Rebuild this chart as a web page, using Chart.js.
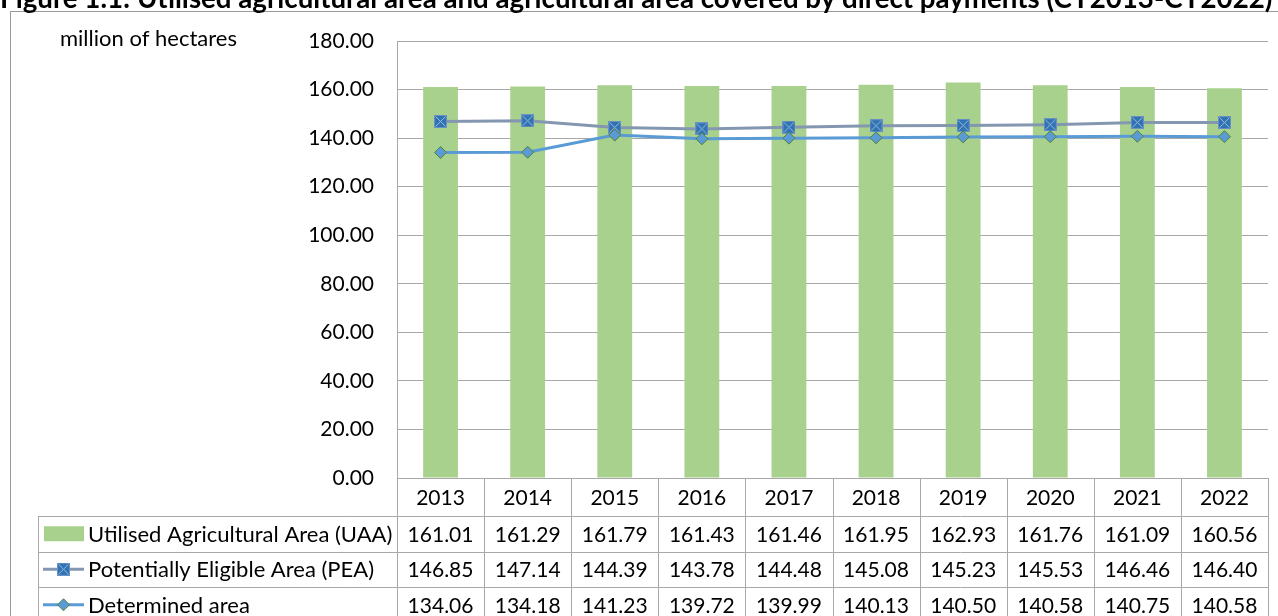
<!DOCTYPE html>
<html>
<head>
<meta charset="utf-8">
<script src="https://cdn.jsdelivr.net/npm/chart.js@4.4.1/dist/chart.umd.min.js"></script>
<style>
  html, body { margin: 0; padding: 0; background: #fff; }
  #wrap { width: 1278px; height: 616px; position: relative; overflow: hidden; background: #fff; }
</style>
</head>
<body>
<div id="wrap"><canvas id="chart" width="1278" height="616"></canvas></div>
<script>
const years = ["2013", "2014", "2015", "2016", "2017", "2018", "2019", "2020", "2021", "2022"];
const uaa = [161.01, 161.29, 161.79, 161.43, 161.46, 161.95, 162.93, 161.76, 161.09, 160.56];
const pea = [146.85, 147.14, 144.39, 143.78, 144.48, 145.08, 145.23, 145.53, 146.46, 146.40];
const determined = [134.06, 134.18, 141.23, 139.72, 139.99, 140.13, 140.50, 140.58, 140.75, 140.58];
const seriesNames = ["Utilised Agricultural Area (UAA)", "Potentially Eligible Area (PEA)", "Determined area"];
const yMin = 0, yMax = 180, yStep = 20;
const titleText = "Figure 1.1: Utilised agricultural area and agricultural area covered by direct payments (CY2013-CY2022)";
const unitLabel = "million of hectares";

const FONT = "Lato";
const GRID = "#A8A8A8";

// blue square with a light cross, used as PEA marker
function crossSquare(size) {
  const c = document.createElement("canvas");
  c.width = size; c.height = size;
  const g = c.getContext("2d");
  g.fillStyle = "#2E74B5";
  g.fillRect(0, 0, size, size);
  g.strokeStyle = "#A3B8D8";
  g.lineWidth = 1;
  g.beginPath();
  g.moveTo(1.5, 1.5); g.lineTo(size - 1.5, size - 1.5);
  g.moveTo(size - 1.5, 1.5); g.lineTo(1.5, size - 1.5);
  g.stroke();
  g.strokeStyle = "#6A90C2";
  g.strokeRect(0.5, 0.5, size - 1, size - 1);
  return c;
}
const peaMarker = crossSquare(13);

function diamond(ctx, x, y, r) {
  ctx.beginPath();
  ctx.moveTo(x, y - r); ctx.lineTo(x + r, y); ctx.lineTo(x, y + r); ctx.lineTo(x - r, y);
  ctx.closePath();
  ctx.fillStyle = "#5B9BD5";
  ctx.fill();
  ctx.strokeStyle = "#548235";
  ctx.lineWidth = 1;
  ctx.stroke();
}

// title, frame, unit label and the data table under the plot
const tablePlugin = {
  id: "dataTable",
  afterDraw(chart) {
    const { ctx, chartArea: a, scales: { x } } = chart;
    const n = years.length;
    const colW = (a.right - a.left) / n;
    const headTop = a.bottom, headBot = a.bottom + 38;
    const rowH = 35.5;
    const rowLines = [headBot, headBot + rowH, headBot + 2 * rowH, headBot + 3 * rowH];
    const tabLeft = 38.5;

    ctx.save();
    // frame
    ctx.strokeStyle = "#9A9A9A";
    ctx.lineWidth = 1;
    ctx.strokeRect(10.5, 11.5, 1400, 700);

    // title
    ctx.fillStyle = "#000";
    ctx.font = "bold 22px " + FONT;
    const tw = ctx.measureText(titleText).width;
    const fs = 22 * 1273 / tw;
    ctx.font = "bold " + fs.toFixed(2) + "px " + FONT;
    ctx.textAlign = "left";
    ctx.textBaseline = "alphabetic";
    ctx.fillText(titleText, 0, 8);

    // unit label
    ctx.font = "22px " + FONT;
    ctx.fillText(unitLabel, 60, 46);

    // table grid
    ctx.strokeStyle = GRID;
    ctx.lineWidth = 1;
    ctx.beginPath();
    rowLines.forEach(y => { ctx.moveTo(tabLeft, Math.round(y) + 0.5); ctx.lineTo(a.right, Math.round(y) + 0.5); });
    ctx.moveTo(tabLeft, rowLines[0]); ctx.lineTo(tabLeft, 640);
    for (let i = 0; i <= n; i++) {
      const cx = Math.round(a.left + i * colW) + 0.5;
      ctx.moveTo(cx, headTop); ctx.lineTo(cx, 640);
    }
    ctx.stroke();

    // header years
    ctx.fillStyle = "#000";
    ctx.font = "21px " + FONT;
    ctx.textAlign = "center";
    ctx.textBaseline = "middle";
    years.forEach((yr, i) => ctx.fillText(yr, x.getPixelForValue(i), (headTop + headBot) / 2 + 1));

    // rows
    const rowData = [uaa, pea, determined];
    rowData.forEach((vals, r) => {
      const cy = (rowLines[r] + rowLines[r + 1]) / 2 + 1;
      vals.forEach((v, i) => {
        ctx.fillText(v.toFixed(2), x.getPixelForValue(i), cy);
      });
    });

    // legend keys in first column
    const keyMid = 63.5;
    let cy = (rowLines[0] + rowLines[1]) / 2;
    ctx.fillStyle = "#A9D18E";
    ctx.fillRect(44, cy - 7.5, 40, 15);

    cy = (rowLines[1] + rowLines[2]) / 2;
    ctx.strokeStyle = "#8497B0"; ctx.lineWidth = 3;
    ctx.beginPath(); ctx.moveTo(43, cy); ctx.lineTo(84, cy); ctx.stroke();
    ctx.drawImage(peaMarker, keyMid - 6.5, cy - 6.5);

    cy = (rowLines[2] + rowLines[3]) / 2;
    ctx.strokeStyle = "#5B9BD5"; ctx.lineWidth = 3;
    ctx.beginPath(); ctx.moveTo(43, cy); ctx.lineTo(84, cy); ctx.stroke();
    diamond(ctx, keyMid, cy, 6);

    ctx.fillStyle = "#000";
    ctx.font = "22px " + FONT;
    ctx.textAlign = "left";
    seriesNames.forEach((s, r) => ctx.fillText(s, 88, (rowLines[r] + rowLines[r + 1]) / 2 + 1));
    ctx.restore();
  }
};

Chart.defaults.font.family = FONT;

new Chart(document.getElementById("chart"), {
  type: "bar",
  data: {
    labels: years,
    datasets: [
      {
        type: "line", label: seriesNames[2], data: determined,
        borderColor: "#5B9BD5", borderWidth: 3,
        pointStyle: "rectRot", pointRadius: 6,
        pointBackgroundColor: "#5B9BD5", pointBorderColor: "#548235", pointBorderWidth: 1,
        tension: 0, order: 1
      },
      {
        type: "line", label: seriesNames[1], data: pea,
        borderColor: "#8497B0", borderWidth: 3,
        pointStyle: peaMarker, pointRadius: 7,
        tension: 0, order: 2
      },
      {
        type: "bar", label: seriesNames[0], data: uaa,
        backgroundColor: "#A9D18E",
        barPercentage: 0.4, categoryPercentage: 1, order: 3
      }
    ]
  },
  options: {
    responsive: false,
    animation: false,
    layout: { padding: { top: 41, bottom: 138, left: 0, right: 3 } },
    plugins: { legend: { display: false }, tooltip: { enabled: false } },
    scales: {
      x: { type: "category", offset: true, display: false },
      y: {
        min: yMin, max: yMax,
        afterFit(s) { s.width = 397; },
        ticks: {
          stepSize: yStep, padding: 23, color: "#000",
          font: { size: 21, family: FONT },
          callback: v => v.toFixed(2)
        },
        grid: { color: GRID, lineWidth: 1, drawTicks: false },
        border: { color: GRID }
      }
    }
  },
  plugins: [tablePlugin]
});
</script>
</body>
</html>
